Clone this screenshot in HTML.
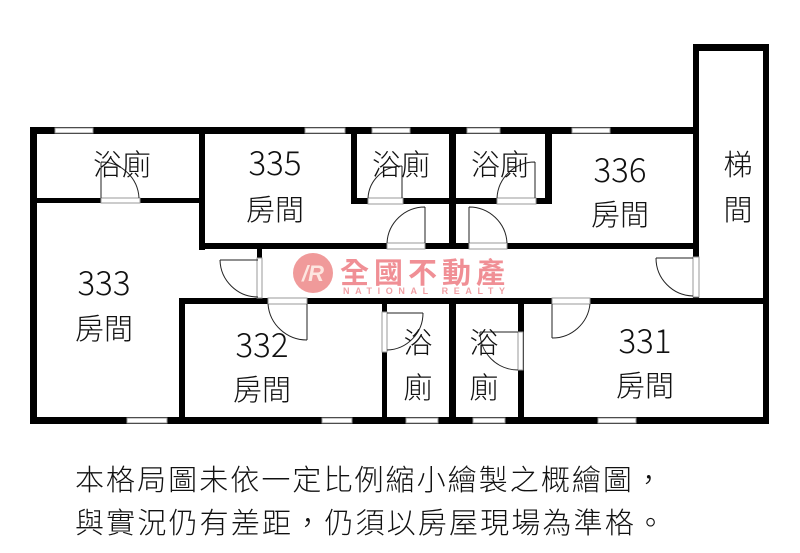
<!DOCTYPE html>
<html><head><meta charset="utf-8"><style>
html,body{margin:0;padding:0;background:#fff;}
svg{display:block;}
.t{font-family:"Noto Sans CJK TC","Liberation Sans",sans-serif;fill:#111;font-weight:300;}
</style></head><body>
<svg width="800" height="553" viewBox="0 0 800 553" xmlns="http://www.w3.org/2000/svg">
<rect width="800" height="553" fill="#fff"/>
<g fill="#000">
<rect x="30" y="127" width="669" height="7"/>
<rect x="693" y="44" width="6" height="254"/>
<rect x="693" y="44" width="76" height="7"/>
<rect x="763" y="44" width="6" height="380"/>
<rect x="30" y="127" width="7" height="297"/>
<rect x="30" y="417" width="739" height="7"/>
<rect x="30" y="198" width="175" height="5"/>
<rect x="199" y="127" width="6" height="123"/>
<rect x="199" y="243" width="500" height="6"/>
<rect x="351" y="127" width="6" height="77"/>
<rect x="351" y="198" width="201" height="6"/>
<rect x="449" y="127" width="7" height="122"/>
<rect x="545" y="127" width="7" height="77"/>
<rect x="257" y="249" width="5" height="51"/>
<rect x="179" y="298" width="590" height="6"/>
<rect x="179" y="298" width="6" height="126"/>
<rect x="382" y="298" width="5" height="126"/>
<rect x="449" y="298" width="7" height="126"/>
<rect x="518" y="298" width="6" height="126"/>
</g>
<g fill="#fff" stroke="#999" stroke-width="1">
<rect x="55" y="128" width="38" height="5"/>
<rect x="305" y="128" width="40" height="5"/>
<rect x="372" y="128" width="38" height="5"/>
<rect x="467" y="128" width="33" height="5"/>
<rect x="572" y="128" width="38" height="5"/>
<rect x="127" y="418" width="40" height="5"/>
<rect x="322" y="418" width="30" height="5"/>
<rect x="406" y="418" width="32" height="5"/>
<rect x="473" y="418" width="32" height="5"/>
<rect x="598" y="418" width="38" height="5"/>
<rect x="101" y="198" width="39" height="5"/>
<rect x="368" y="198" width="35" height="6"/>
<rect x="497" y="198" width="39" height="6"/>
<rect x="387" y="243" width="38" height="6"/>
<rect x="469" y="243" width="38" height="6"/>
<rect x="257" y="258" width="5" height="40"/>
<rect x="268" y="298" width="39" height="6"/>
<rect x="382" y="312" width="5" height="40"/>
<rect x="518" y="332" width="5" height="38"/>
<rect x="552" y="298" width="38" height="6"/>
<rect x="693" y="257" width="6" height="40"/>
</g>
<g fill="none" stroke="#222" stroke-width="1">
<path d="M101 198 V162 M101 162 A38 38 0 0 1 139 198"/>
<path d="M402 198 V166 M402 166 A34 34 0 0 0 368 198"/>
<path d="M535 198 V162 M535 162 A38 38 0 0 0 497 198"/>
<path d="M425 243 V207 M425 207 A38 38 0 0 0 387 243"/>
<path d="M469 243 V207 M469 207 A38 38 0 0 1 507 243"/>
<path d="M258 260 H220 M220 260 A38 38 0 0 0 258 297"/>
<path d="M307 304 V340 M307 340 A39 39 0 0 1 268 304"/>
<path d="M387 313 H423 M423 313 A37 37 0 0 1 387 350"/>
<path d="M518 332 H480 M480 332 A38 38 0 0 0 518 370"/>
<path d="M552 304 V338 M552 338 A38 38 0 0 0 590 304"/>
<path d="M693 258 H656 M656 258 A38 38 0 0 0 693 296"/>
</g>
<circle cx="313" cy="273" r="20" fill="#f09a9a"/>
<text x="313" y="281" text-anchor="middle" font-family="Liberation Sans,sans-serif" font-weight="bold" font-style="italic" font-size="22" fill="#fde6e0">/R</text>
<text x="340" y="283" font-family="'Noto Sans CJK TC',sans-serif" font-weight="bold" font-size="29" fill="#f08f95" textLength="165">全國不動產</text>
<text x="343" y="294" font-family="Liberation Sans,sans-serif" font-weight="bold" font-size="9" fill="#f0a0a5" textLength="162">NATIONAL REALTY</text>
<g class="t" font-size="29" text-anchor="middle">
<text x="122" y="175">浴廁</text>
<text x="275" y="220">房間</text>
<text x="401" y="175">浴廁</text>
<text x="500" y="175">浴廁</text>
<text x="620" y="225">房間</text>
<text x="738" y="175">梯</text>
<text x="738" y="220">間</text>
<text x="104" y="339">房間</text>
<text x="262" y="400">房間</text>
<text x="418" y="353">浴</text>
<text x="418" y="398">廁</text>
<text x="484" y="353">浴</text>
<text x="484" y="398">廁</text>
<text x="645" y="396">房間</text>
</g>
<g class="t" font-size="33" text-anchor="middle">
<text x="275" y="175">335</text>
<text x="620" y="182">336</text>
<text x="104" y="295">333</text>
<text x="262" y="357">332</text>
<text x="645" y="353">331</text>
</g>
<g class="t" font-size="29">
<text x="75" y="490" textLength="588">本格局圖未依一定比例縮小繪製之概繪圖，</text>
<text x="75" y="533" textLength="590">與實況仍有差距，仍須以房屋現場為準格。</text>
</g>
</svg>
</body></html>
